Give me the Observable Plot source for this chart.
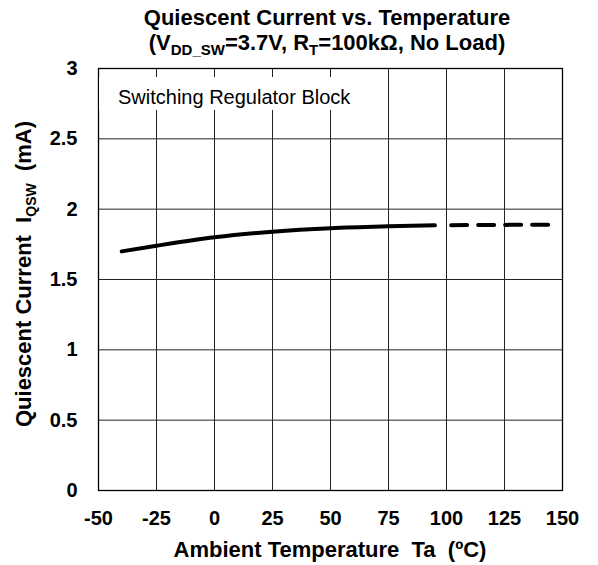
<!DOCTYPE html>
<html><head><meta charset="utf-8">
<script src="https://cdn.jsdelivr.net/npm/d3@7"></script>
<script src="https://cdn.jsdelivr.net/npm/@observablehq/plot@0.6"></script>
<style>
body{margin:0;background:#fff}
svg{font-family:"Liberation Sans",Arial,sans-serif}
</style>
</head><body><div id="chart"></div>
<script>
// Data
const solidTemp = [-40, -25, 0, 25, 50, 75, 95];
const solidCurrent = [1.70, 1.74, 1.80, 1.84, 1.865, 1.878, 1.885];
const dashedTemp = [102, 144];
const dashedCurrent = [1.886, 1.89];
const xTicks = [-50, -25, 0, 25, 50, 75, 100, 125, 150];
const yTicks = [0, 0.5, 1, 1.5, 2, 2.5, 3];
const boxLabel = "Switching Regulator Block";

const solid = solidTemp.map((t, i) => ({t, c: solidCurrent[i]}));
const dashed = dashedTemp.map((t, i) => ({t, c: dashedCurrent[i]}));

const chart = Plot.plot({
  width: 598, height: 565,
  marginLeft: 98, marginRight: 36, marginTop: 68, marginBottom: 75,
  style: {fontFamily: '"Liberation Sans", Arial, sans-serif', background: "white", color: "black"},
  x: {domain: [-50, 150]},
  y: {domain: [0, 3]},
  marks: [
    Plot.gridX(xTicks, {stroke: "#222", strokeOpacity: 1, strokeWidth: 1}),
    Plot.gridY(yTicks, {stroke: "#222", strokeOpacity: 1, strokeWidth: 1}),
    Plot.line(solid, {x: "t", y: "c", stroke: "black", strokeWidth: 4, curve: "monotone-x", strokeLinecap: "round"}),
    Plot.line(dashed, {x: "t", y: "c", stroke: "black", strokeWidth: 4, strokeDasharray: "16,11"}),
    Plot.frame({stroke: "black", strokeWidth: 1.3}),
    Plot.axisX({ticks: xTicks, tickSize: 0, tickPadding: 20, label: null, tickFormat: d => String(d)}),
    Plot.axisY({ticks: yTicks, tickSize: 0, tickPadding: 21, label: null, tickFormat: d => String(d)})
  ]
});
document.getElementById("chart").appendChild(chart);

const svg = d3.select(chart);
const x = chart.scale("x");

svg.selectAll('g[aria-label="x-axis tick label"], g[aria-label="y-axis tick label"]')
  .style("font-size", "20px").style("font-weight", "bold");

// Label box
const box = svg.append("rect").attr("fill", "white");
const lbl = svg.append("text").attr("x", 118).attr("y", 104).attr("text-anchor", "start")
  .style("font-size", "20px").attr("fill", "black").text(boxLabel);
const bb = lbl.node().getBBox();
const x0 = x.apply(-50) + 1;
box.attr("x", x0).attr("y", 77).attr("width", bb.x + bb.width + 12 - x0).attr("height", 33);

// Title
svg.append("text").attr("x", 327).attr("y", 25).attr("text-anchor", "middle")
  .style("font-size", "22px").style("font-weight", "bold").text("Quiescent Current vs. Temperature");
const t2 = svg.append("text").attr("x", 327).attr("y", 50).attr("text-anchor", "middle")
  .style("font-size", "22px").style("font-weight", "bold");
t2.append("tspan").text("(V");
t2.append("tspan").style("font-size", "15px").attr("dy", 5).text("DD_SW");
t2.append("tspan").attr("dy", -5).text("=3.7V, R");
t2.append("tspan").style("font-size", "15px").attr("dy", 5).text("T");
t2.append("tspan").attr("dy", -5).text("=100kΩ, No Load)");

// X label
svg.append("text").attr("x", 330).attr("y", 557).attr("text-anchor", "middle")
  .style("font-size", "22px").style("font-weight", "bold").style("white-space", "pre")
  .text("Ambient Temperature  Ta  (ºC)");

// Y label
const yl = svg.append("text").attr("transform", "translate(31,274) rotate(-90)")
  .attr("text-anchor", "middle").style("font-size", "22px").style("font-weight", "bold")
  .style("white-space", "pre");
yl.append("tspan").text("Quiescent Current  I");
yl.append("tspan").style("font-size", "14px").attr("dy", 5).text("QSW");
yl.append("tspan").attr("dy", -5).text("  (mA)");
</script>
</body></html>
